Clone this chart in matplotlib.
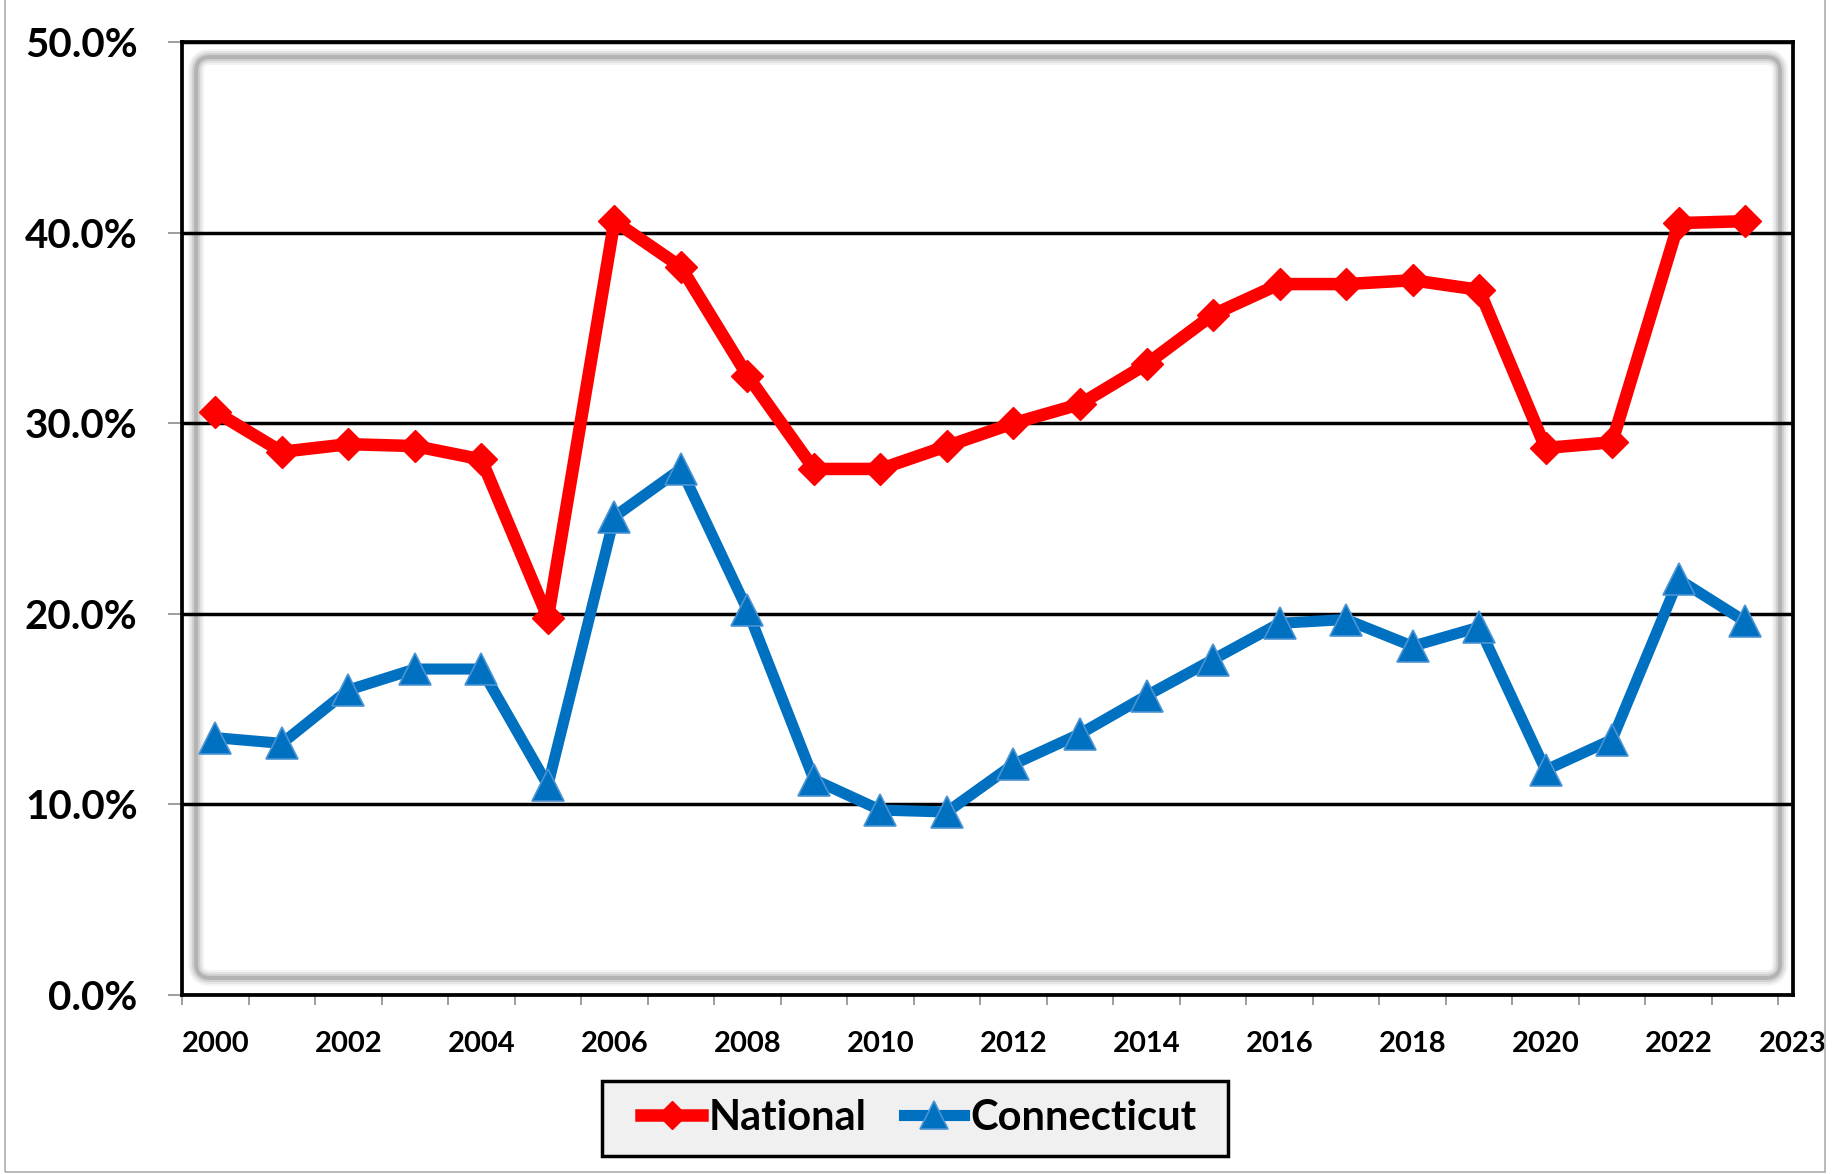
import matplotlib
matplotlib.use('Agg')
import matplotlib.pyplot as plt
from matplotlib.patches import FancyBboxPatch, Rectangle

# 字体: Lato 粗体, 近似原图的 Calibri
plt.rcParams['font.family'] = ['Lato', 'DejaVu Sans']
plt.rcParams['font.weight'] = 'bold'

years = list(range(2000, 2024))
national = [30.6, 28.5, 28.9, 28.8, 28.1, 19.8, 40.6, 38.2, 32.5, 27.6, 27.6, 28.8,
            30.0, 31.0, 33.1, 35.7, 37.3, 37.3, 37.5, 37.0, 28.7, 29.0, 40.5, 40.6]
connecticut = [13.5, 13.2, 16.0, 17.1, 17.1, 11.0, 25.1, 27.6, 20.2, 11.3, 9.7, 9.6,
               12.1, 13.7, 15.7, 17.6, 19.5, 19.7, 18.3, 19.3, 11.8, 13.4, 21.8, 19.6]
x_labels = ['2000', '2002', '2004', '2006', '2008', '2010', '2012',
            '2014', '2016', '2018', '2020', '2022', '2023']
y_ticks = [0, 10, 20, 30, 40, 50]

x = list(range(len(years)))

fig = plt.figure(figsize=(18.39, 11.74), dpi=100)
ax = fig.add_axes([0.099, 0.1525, 0.876, 0.8117])

# 内部阴影框
ax_w, ax_h = 1611, 953
for w, a in [(11.5, 0.07), (8.6, 0.10), (5.8, 0.15), (2.9, 0.25)]:
    frame = FancyBboxPatch((14 / ax_w, 17 / ax_h), 1 - 27 / ax_w, 1 - 32 / ax_h,
                           boxstyle='round,pad=0,rounding_size=0.009',
                           mutation_aspect=ax_w / ax_h, transform=ax.transAxes,
                           fill=False, edgecolor='#606060', lw=w, alpha=a,
                           zorder=0.4, clip_on=False)
    ax.add_patch(frame)

ax.plot(x, national, color='#FF0000', lw=9, marker='D', ms=16,
        mec='#FF0000', zorder=4, label='National')
ax.plot(x, connecticut, color='#0070C0', lw=8, marker='^', ms=23,
        mec='#4A93D4', mew=1.2, zorder=3, label='Connecticut')

ax.set_xlim(-0.5, len(years) - 0.5)
ax.set_ylim(0, 50)

ax.set_axisbelow(True)
ax.yaxis.grid(True, color='black', lw=2.5)

for s in ax.spines.values():
    s.set_linewidth(2.7)
    s.set_color('black')

ax.set_yticks(y_ticks)
ax.set_yticklabels([f'{v:.1f}%' for v in y_ticks])
ax.tick_params(axis='y', which='major', length=10, width=1.2, color='#8c8c8c',
               pad=22, labelsize=29)

# 2023 标签偏到轴右端外侧, 与原图一致
label_pos = [years.index(int(t)) for t in x_labels[:-1]] + [len(years) - 1 + 0.72]
ax.set_xticks(label_pos)
ax.set_xticklabels(x_labels)
ax.set_xticks([i - 0.5 for i in range(len(years) + 1)], minor=True)
ax.tick_params(axis='x', which='major', length=0, pad=26, labelsize=21)
ax.tick_params(axis='x', which='minor', length=7, width=1.2, color='#8c8c8c')

# 图例框
fig.add_artist(Rectangle((602 / 1839, 18 / 1174), 626 / 1839, 75 / 1174,
                         transform=fig.transFigure, facecolor='#f0f0f0',
                         edgecolor='black', lw=2.5, zorder=1))
leg = fig.legend(loc='center', bbox_to_anchor=(0.4997, 0.0477), ncol=2,
                 fontsize=30, frameon=False, handlelength=1.45,
                 handletextpad=0.15, columnspacing=0.9, markerscale=0.9)
leg.set_zorder(2)

# 外边框
fig.add_artist(Rectangle((0.0027, 0.0017), 0.9897, 1.01, transform=fig.transFigure,
                         fill=False, edgecolor='#a6a6a6', lw=1.1))

fig.savefig('out.png', dpi=100)
